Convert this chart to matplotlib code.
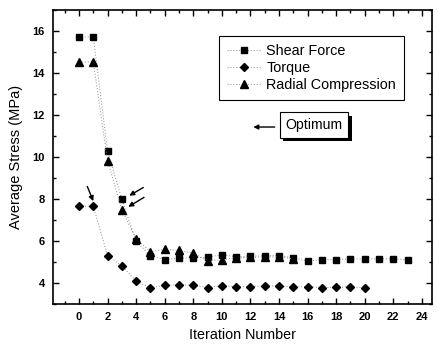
import numpy as np
import matplotlib
matplotlib.use('Agg')
import matplotlib.pyplot as plt
import matplotlib.patheffects as pe
from matplotlib.ticker import MultipleLocator

plt.rcParams['font.family'] = ['Liberation Sans', 'DejaVu Sans']

# iteration numbers and stresses (MPa)
iter_shear = list(range(0, 24))
shear_force = [15.72, 15.72, 10.27, 7.98, 5.98, 5.31, 5.12, 5.18, 5.2, 5.23,
               5.35, 5.25, 5.28, 5.3, 5.31, 5.2, 5.04, 5.11, 5.12, 5.14,
               5.15, 5.15, 5.15, 5.11]
iter_torque = list(range(0, 21))
torque = [7.65, 7.65, 5.31, 4.82, 4.08, 3.78, 3.89, 3.92, 3.89, 3.78,
          3.88, 3.81, 3.83, 3.86, 3.86, 3.81, 3.83, 3.78, 3.8, 3.81, 3.78]
iter_radial = list(range(0, 16))
radial = [14.53, 14.53, 9.83, 7.48, 6.1, 5.5, 5.6, 5.55, 5.42, 5.07,
          5.1, 5.2, 5.22, 5.25, 5.25, 5.15]

fig = plt.figure(figsize=(4.37, 3.45), dpi=100)
ax = fig.add_axes([0.1213, 0.1188, 0.867, 0.852])

line_kw = dict(color='0.55', linestyle=(0, (1, 2)), linewidth=0.7,
               markerfacecolor='black', markeredgecolor='black')
ax.plot(iter_shear, shear_force, marker='s', markersize=4.3, label='Shear Force', **line_kw)
ax.plot(iter_torque, torque, marker='D', markersize=4.5, label='Torque', **line_kw)
ax.plot(iter_radial, radial, marker='^', markersize=5.2, label='Radial Compression', **line_kw)

ax.set_xlim(-1.82, 24.7)
ax.set_ylim(3, 17)
ax.xaxis.set_major_locator(MultipleLocator(2))
ax.xaxis.set_minor_locator(MultipleLocator(1))
ax.yaxis.set_major_locator(MultipleLocator(2))
ax.yaxis.set_minor_locator(MultipleLocator(1))
ax.set_xticks(range(0, 25, 2))
ax.tick_params(which='both', direction='in', top=True, right=True, width=1)
ax.tick_params(which='major', length=4, labelsize=8, pad=6)
ax.tick_params(which='minor', length=2)
for lab in ax.get_xticklabels() + ax.get_yticklabels():
    lab.set_fontweight('bold')
for s in ax.spines.values():
    s.set_linewidth(1.2)

ax.set_xlabel('Iteration Number', fontsize=10.3, labelpad=4)
ax.set_ylabel('Average Stress (MPa)', fontsize=10.5, labelpad=7)

leg = ax.legend(loc='upper left', bbox_to_anchor=(0.439, 0.912), borderaxespad=0,
                fontsize=10.4, fancybox=False, edgecolor='black', framealpha=1,
                handlelength=2.3, borderpad=0.55, labelspacing=0.2, handletextpad=0.4)
leg.get_frame().set_linewidth(0.8)

# arrows pointing at chosen points
arr = dict(arrowstyle='-|>', color='black', lw=1, mutation_scale=7, shrinkA=0, shrinkB=0)
ax.annotate('', xy=(1.0, 7.9), xytext=(0.58, 8.6), arrowprops=arr)
ax.annotate('', xy=(3.52, 8.16), xytext=(4.5, 8.55), arrowprops=arr)
ax.annotate('', xy=(3.45, 7.63), xytext=(4.55, 8.08), arrowprops=arr)
ax.annotate('', xy=(12.2, 11.43), xytext=(13.7, 11.43), arrowprops=arr)

t = ax.text(16.45, 11.52, 'Optimum', fontsize=10.2, ha='center', va='center',
            bbox=dict(boxstyle='square,pad=0.4', fc='white', ec='black', lw=0.8))
t.get_bbox_patch().set_path_effects([
    pe.withSimplePatchShadow(offset=(2.5, -2.5), shadow_rgbFace='black', alpha=1.0)])

fig.savefig('out.png', dpi=100)
